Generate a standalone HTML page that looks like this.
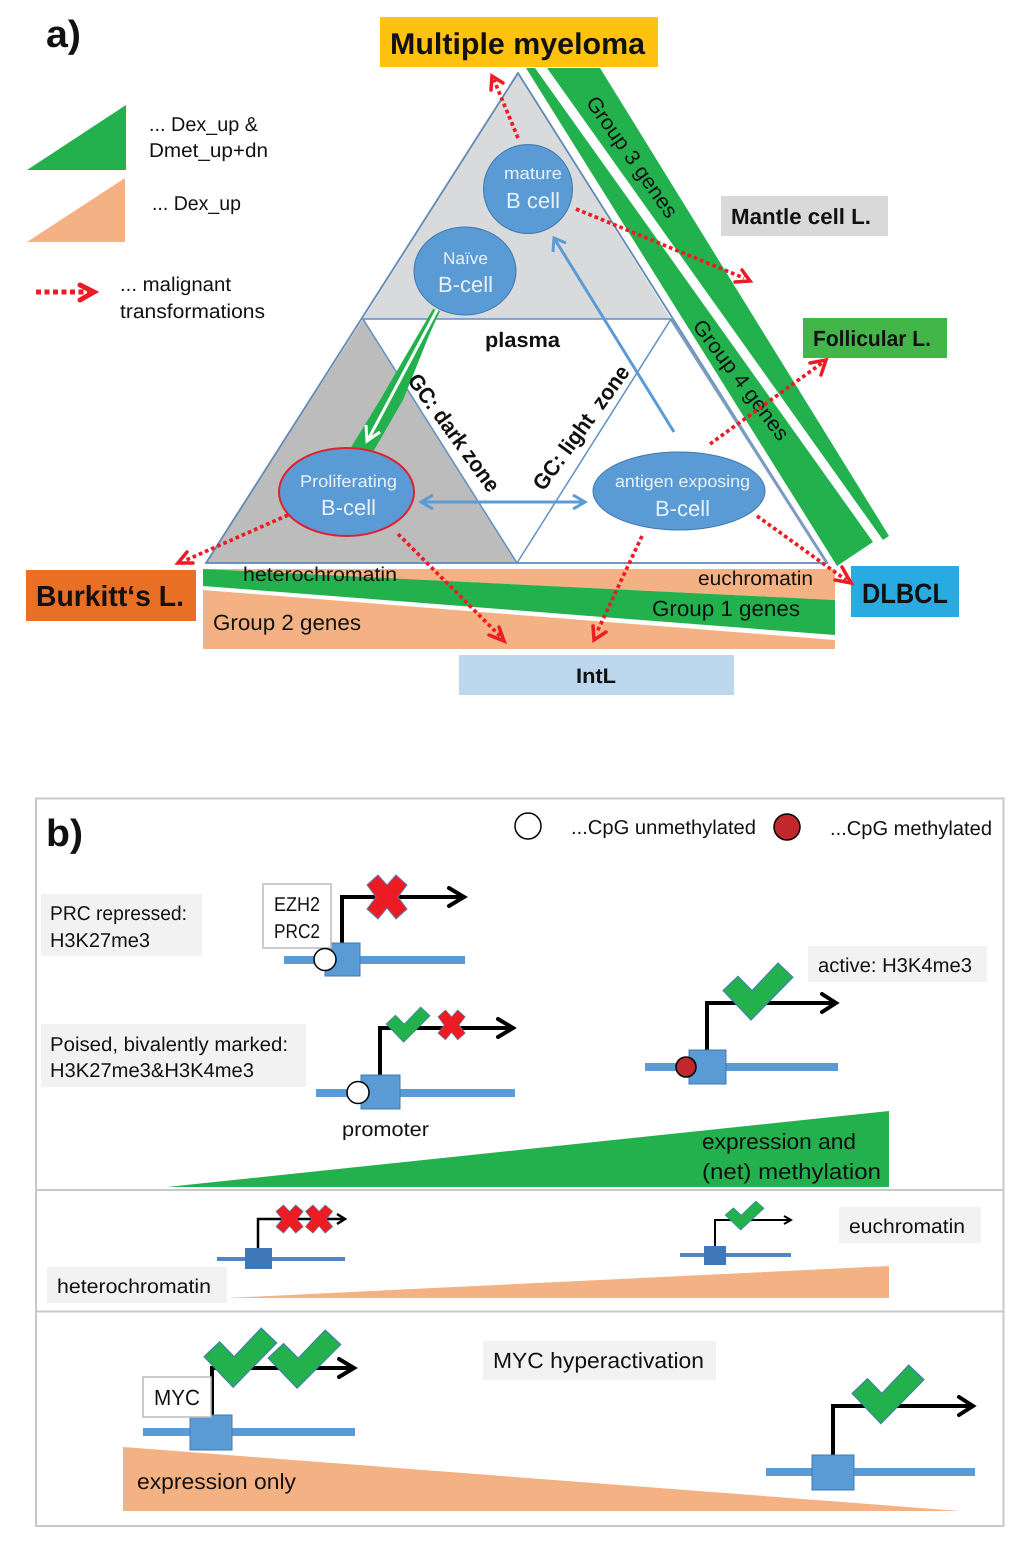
<!DOCTYPE html>
<html><head><meta charset="utf-8"><style>
html,body{margin:0;padding:0;background:#fff}
svg{display:block}
text{font-family:"Liberation Sans",sans-serif;fill:#111;text-rendering:geometricPrecision}
.b{font-weight:bold}
.w{fill:#e8f0f8}
</style></head><body>
<svg xmlns="http://www.w3.org/2000/svg" width="1024" height="1554" viewBox="0 0 1024 1554">
<defs>
<polygon id="chk" points="0,27 15,13 29,27 55,0 70,14 28,56" fill="#22b14c" stroke="#3f78b8" stroke-width="1"/>
<polygon id="x" points="11,0 20,10 29,0 40,10 31,22 40,34 29,44 20,33 11,44 0,34 9,22 0,10" fill="#ed1c24" stroke="#5b7fb5" stroke-width="1"/>
</defs>

<!-- bands -->
<polygon points="526,68 535,68 873,542 837,566" fill="#22b14c"/>
<polygon points="547,68 600,68 889,536 883,540" fill="#22b14c"/>

<!-- triangle -->
<polygon points="518,73 363,319 671,319" fill="#d9dadc"/>
<polygon points="363,319 206,563 517,563" fill="#bdbcbc"/>
<polygon points="518,73 206,563 827,563" fill="none" stroke="#5f8ab8" stroke-width="1.800"/>
<line x1="671" y1="319" x2="827" y2="563" stroke="#7a9cc0" stroke-width="3"/>
<polygon points="363,319 671,319 517,563" fill="none" stroke="#5f8fc5" stroke-width="1.500"/>

<!-- bottom bars -->
<polygon points="203,569 835,569 835,600" fill="#f4b183"/>
<polygon points="203,569 835,600 835,635 203,586" fill="#22b14c"/>
<polygon points="203,590 835,640 835,649 203,649" fill="#f4b183"/>

<!-- boxes -->
<rect x="380" y="17" width="278" height="50" fill="#ffc20e"/>
<rect x="721" y="196" width="167" height="40" fill="#d9d9d9"/>
<rect x="803" y="318" width="144" height="40" fill="#43b649"/>
<rect x="26" y="570" width="170" height="51" fill="#e86f24"/>
<rect x="851" y="566" width="108" height="51" fill="#29abe2"/>
<rect x="459" y="655" width="275" height="40" fill="#bdd7ee"/>

<text x="390" y="54" class="b" font-size="30" textLength="255" lengthAdjust="spacingAndGlyphs">Multiple myeloma</text>
<text x="731" y="224" class="b" font-size="22" textLength="140" lengthAdjust="spacingAndGlyphs">Mantle cell L.</text>
<text x="813" y="346" class="b" font-size="22" textLength="118" lengthAdjust="spacingAndGlyphs">Follicular L.</text>
<text x="36" y="606" class="b" font-size="29" textLength="148" lengthAdjust="spacingAndGlyphs">Burkitt‘s L.</text>
<text x="862" y="603" class="b" font-size="28" textLength="86" lengthAdjust="spacingAndGlyphs">DLBCL</text>
<text x="576" y="683" class="b" font-size="21" textLength="40" lengthAdjust="spacingAndGlyphs">IntL</text>

<!-- legend -->
<polygon points="27,170 126,105 126,170" fill="#22b14c"/>
<polygon points="27,242 125,178 125,242" fill="#f4b183"/>
<text x="149" y="131" font-size="20" textLength="109" lengthAdjust="spacingAndGlyphs">... Dex_up &amp;</text>
<text x="149" y="157" font-size="20" textLength="119" lengthAdjust="spacingAndGlyphs">Dmet_up+dn</text>
<text x="152" y="210" font-size="20" textLength="89" lengthAdjust="spacingAndGlyphs">... Dex_up</text>
<text x="120" y="291" font-size="20" textLength="111" lengthAdjust="spacingAndGlyphs">... malignant</text>
<text x="120" y="318" font-size="20" textLength="145" lengthAdjust="spacingAndGlyphs">transformations</text>
<line x1="36" y1="292" x2="90" y2="292" stroke="#ed1c24" stroke-width="5" stroke-dasharray="5 3.500"/>
<path d="M80,285 L94,292 L80,300" fill="none" stroke="#ed1c24" stroke-width="5" stroke-linecap="round" stroke-linejoin="miter"/>

<text x="46" y="47" class="b" font-size="38" textLength="35" lengthAdjust="spacingAndGlyphs">a)</text>
<text x="46" y="846" class="b" font-size="38" textLength="37" lengthAdjust="spacingAndGlyphs">b)</text>

<!-- green wedge arrow -->
<polygon points="433,309 440,311 430,333 403,400 373,452 350,449 380,400" fill="#22b14c"/>
<line x1="437" y1="310" x2="369" y2="438" stroke="#fff" stroke-width="3"/>
<path d="M366,425 L367,441 L380,432" fill="none" stroke="#fff" stroke-width="3"/>

<!-- blue arrows -->
<line x1="674" y1="432" x2="554" y2="238" stroke="#5b9bd5" stroke-width="3"/>
<path d="M553,252 L554,238 L566,243" fill="none" stroke="#5b9bd5" stroke-width="3"/>
<line x1="421" y1="502" x2="585" y2="502" stroke="#5b9bd5" stroke-width="3"/>
<path d="M433,495 L421,502 L433,509 M573,495 L585,502 L573,509" fill="none" stroke="#5b9bd5" stroke-width="3"/>

<!-- cells -->
<circle cx="528" cy="189" r="44.500" fill="#5b9bd5" stroke="#3f78b0" stroke-width="1"/>
<ellipse cx="465" cy="271" rx="51" ry="44" fill="#5b9bd5" stroke="#3f78b0" stroke-width="1"/>
<ellipse cx="346.500" cy="492" rx="67.500" ry="44" fill="#5b9bd5" stroke="#e0202e" stroke-width="2"/>
<ellipse cx="679" cy="491" rx="86" ry="39" fill="#5b9bd5" stroke="#3f78b0" stroke-width="1"/>
<text x="504" y="179" class="w" font-size="17" textLength="58" lengthAdjust="spacingAndGlyphs">mature</text>
<text x="506" y="208" class="w" font-size="22" textLength="54" lengthAdjust="spacingAndGlyphs">B cell</text>
<text x="443" y="264" class="w" font-size="17" textLength="45" lengthAdjust="spacingAndGlyphs">Naïve</text>
<text x="438" y="292" class="w" font-size="22" textLength="55" lengthAdjust="spacingAndGlyphs">B-cell</text>
<text x="300" y="487" class="w" font-size="17" textLength="97" lengthAdjust="spacingAndGlyphs">Proliferating</text>
<text x="321" y="515" class="w" font-size="22" textLength="55" lengthAdjust="spacingAndGlyphs">B-cell</text>
<text x="615" y="487" class="w" font-size="17" textLength="135" lengthAdjust="spacingAndGlyphs">antigen exposing</text>
<text x="655" y="516" class="w" font-size="22" textLength="55" lengthAdjust="spacingAndGlyphs">B-cell</text>

<text x="485" y="347" class="b" font-size="21" textLength="75" lengthAdjust="spacingAndGlyphs">plasma</text>
<text transform="translate(453.500,433) rotate(54)" text-anchor="middle" y="7" class="b" font-size="22" textLength="140" lengthAdjust="spacingAndGlyphs">GC: dark zone</text>
<text transform="translate(581.500,428) rotate(-54)" text-anchor="middle" y="7" class="b" font-size="22" textLength="148" lengthAdjust="spacingAndGlyphs" xml:space="preserve">GC: light  zone</text>
<text transform="translate(632,157) rotate(55)" text-anchor="middle" y="7" font-size="21" textLength="143" lengthAdjust="spacingAndGlyphs">Group 3 genes</text>
<text transform="translate(741,380) rotate(53)" text-anchor="middle" y="7" font-size="21" textLength="145" lengthAdjust="spacingAndGlyphs">Group 4 genes</text>

<text x="243" y="581" font-size="20" textLength="154" lengthAdjust="spacingAndGlyphs">heterochromatin</text>
<text x="698" y="585" font-size="20" textLength="115" lengthAdjust="spacingAndGlyphs">euchromatin</text>
<text x="652" y="616" font-size="22" textLength="148" lengthAdjust="spacingAndGlyphs">Group 1 genes</text>
<text x="213" y="630" font-size="22" textLength="148" lengthAdjust="spacingAndGlyphs">Group 2 genes</text>

<!-- red dotted arrows -->
<g fill="none" stroke="#ed1c24" stroke-width="3.700" stroke-dasharray="3.700 3">
<line x1="518" y1="138" x2="494" y2="80"/>
<line x1="576" y1="209" x2="744" y2="278"/>
<line x1="710" y1="444" x2="822" y2="363"/>
<line x1="757" y1="516" x2="846" y2="580"/>
<line x1="642" y1="536" x2="597" y2="632"/>
<line x1="398" y1="534" x2="500" y2="636"/>
<line x1="288" y1="515" x2="184" y2="561"/>
</g>
<g fill="none" stroke="#ed1c24" stroke-width="3.500" stroke-linecap="round">
<path d="M491,90 L492,76 L503,83"/>
<path d="M742,270 L750,281 L735,282"/>
<path d="M810,363 L826,360 L821,375"/>
<path d="M835,580 L851,583 L842,567"/>
<path d="M593,626 L594,640 L606,632"/>
<path d="M489,635 L504,641 L499,627"/>
<path d="M193,563 L178,563 L187,552"/>
</g>

<!-- panel b -->
<rect x="36" y="798.500" width="967.500" height="727.500" fill="none" stroke="#c8c8c8" stroke-width="2"/>
<line x1="36" y1="1190" x2="1003" y2="1190" stroke="#c8c8c8" stroke-width="2"/>
<line x1="36" y1="1311.500" x2="1003" y2="1311.500" stroke="#c8c8c8" stroke-width="2"/>

<circle cx="528" cy="826" r="13" fill="#fff" stroke="#000" stroke-width="1.500"/>
<circle cx="787" cy="827" r="13" fill="#c1272d" stroke="#000" stroke-width="1.500"/>
<text x="571" y="834" font-size="20" textLength="185" lengthAdjust="spacingAndGlyphs">...CpG unmethylated</text>
<text x="830" y="835" font-size="20" textLength="162" lengthAdjust="spacingAndGlyphs">...CpG methylated</text>

<!-- label bgs -->
<g fill="#f2f2f2">
<rect x="41" y="894" width="161" height="62"/>
<rect x="41" y="1024" width="265" height="63"/>
<rect x="808" y="946" width="179" height="36"/>
<rect x="839" y="1207" width="142" height="36"/>
<rect x="47" y="1267" width="180" height="36"/>
<rect x="483" y="1341" width="233" height="39"/>
</g>
<text x="50" y="920" font-size="20" textLength="137" lengthAdjust="spacingAndGlyphs">PRC repressed:</text>
<text x="50" y="947" font-size="20" textLength="100" lengthAdjust="spacingAndGlyphs">H3K27me3</text>
<text x="50" y="1051" font-size="20" textLength="238" lengthAdjust="spacingAndGlyphs">Poised, bivalently marked:</text>
<text x="50" y="1077" font-size="20" textLength="204" lengthAdjust="spacingAndGlyphs">H3K27me3&amp;H3K4me3</text>
<text x="818" y="972" font-size="20" textLength="154" lengthAdjust="spacingAndGlyphs">active: H3K4me3</text>
<text x="849" y="1233" font-size="20" textLength="116" lengthAdjust="spacingAndGlyphs">euchromatin</text>
<text x="57" y="1293" font-size="20" textLength="154" lengthAdjust="spacingAndGlyphs">heterochromatin</text>
<text x="493" y="1368" font-size="22" textLength="211" lengthAdjust="spacingAndGlyphs">MYC hyperactivation</text>
<text x="342" y="1136" font-size="20" textLength="87" lengthAdjust="spacingAndGlyphs">promoter</text>

<!-- wedges -->
<polygon points="167,1187 889,1111 889,1187" fill="#22b14c"/>
<polygon points="227,1298 889,1266 889,1298" fill="#f4b183"/>
<polygon points="123,1447 960,1511 123,1511" fill="#f4b183"/>
<text x="702" y="1149" font-size="22" textLength="154" lengthAdjust="spacingAndGlyphs">expression and</text>
<text x="702" y="1179" font-size="22" textLength="179" lengthAdjust="spacingAndGlyphs">(net) methylation</text>
<text x="137" y="1489" font-size="22" textLength="159" lengthAdjust="spacingAndGlyphs">expression only</text>

<g fill="none" stroke="#000" stroke-width="4" stroke-linecap="round">
<path d="M342,943 V897 H463"/>
<path d="M449,888 L464,897 L449,906"/>
<path d="M380,1075 V1028 H512"/>
<path d="M498,1019 L513,1028 L498,1037"/>
<path d="M707,1050 V1003 H835"/>
<path d="M822,994 L836,1003 L822,1012"/>
<path d="M212,1415 V1368 H353"/>
<path d="M339,1359 L354,1368 L339,1377"/>
<path d="M833,1455 V1406 H972"/>
<path d="M959,1397 L973,1406 L959,1415"/>
</g>

<!-- gene 1 -->
<rect x="284" y="956" width="181" height="8" fill="#5b9bd5"/>
<rect x="325" y="943" width="35" height="33" fill="#5b9bd5" stroke="#3f78b0"/>
<rect x="263" y="884" width="68" height="64" fill="#fff" stroke="#bbb" stroke-width="1.500"/>
<text x="274" y="911" font-size="20" textLength="46" lengthAdjust="spacingAndGlyphs">EZH2</text>
<text x="274" y="938" font-size="20" textLength="46" lengthAdjust="spacingAndGlyphs">PRC2</text>
<circle cx="325" cy="959.500" r="11" fill="#fff" stroke="#000" stroke-width="1.500"/>
<use href="#x" transform="translate(367,875)"/>

<!-- gene 2 -->
<rect x="316" y="1089" width="199" height="8" fill="#5b9bd5"/>
<rect x="361" y="1075" width="39" height="34" fill="#5b9bd5" stroke="#3f78b0"/>
<circle cx="358" cy="1092.500" r="11" fill="#fff" stroke="#000" stroke-width="1.500"/>
<use href="#chk" transform="translate(386,1007) scale(.63)"/>
<use href="#x" transform="translate(438,1010) scale(.68)"/>

<!-- gene 3 -->
<rect x="645" y="1063" width="193" height="8" fill="#5b9bd5"/>
<rect x="689" y="1050" width="37" height="34" fill="#5b9bd5" stroke="#3f78b0"/>
<circle cx="686" cy="1067" r="10" fill="#c1272d" stroke="#000" stroke-width="1.500"/>
<use href="#chk" transform="translate(723,963) scale(1,1.020)"/>

<!-- gene 4 hetero -->
<rect x="217" y="1257" width="128" height="4" fill="#4f86c6"/>
<rect x="245" y="1248" width="27" height="21" fill="#3f78b8"/>
<path d="M258,1248 V1219 H344" fill="none" stroke="#000" stroke-width="2.500"/>
<path d="M337,1214 L345,1219 L337,1224" fill="none" stroke="#000" stroke-width="2.500"/>
<use href="#x" transform="translate(276,1205) scale(.68,.64)"/>
<use href="#x" transform="translate(305.500,1205) scale(.68,.64)"/>

<!-- gene 5 euchrom -->
<rect x="680" y="1253" width="111" height="4" fill="#4f86c6"/>
<rect x="704" y="1246" width="22" height="19" fill="#3f78b8"/>
<path d="M715,1246 V1220 H790" fill="none" stroke="#000" stroke-width="2"/>
<path d="M784,1216 L791,1220 L784,1224" fill="none" stroke="#000" stroke-width="2"/>
<use href="#chk" transform="translate(725,1201) scale(.56,.52)"/>

<!-- MYC gene -->
<rect x="143" y="1428" width="212" height="8" fill="#5b9bd5"/>
<rect x="190" y="1415" width="42" height="35" fill="#5b9bd5" stroke="#3f78b0"/>
<rect x="143" y="1377" width="68" height="40" fill="#fff" stroke="#bbb" stroke-width="1.500"/>
<text x="154" y="1405" font-size="22" textLength="46" lengthAdjust="spacingAndGlyphs">MYC</text>
<use href="#chk" transform="translate(204,1328) scale(1.040,1.060)"/>
<use href="#chk" transform="translate(268,1330) scale(1.040,1.040)"/>

<!-- right gene -->
<rect x="766" y="1468" width="209" height="8" fill="#5b9bd5"/>
<rect x="812" y="1455" width="42" height="35" fill="#5b9bd5" stroke="#3f78b0"/>
<use href="#chk" transform="translate(852,1365) scale(1.030,1.050)"/>
</svg>
</body></html>
